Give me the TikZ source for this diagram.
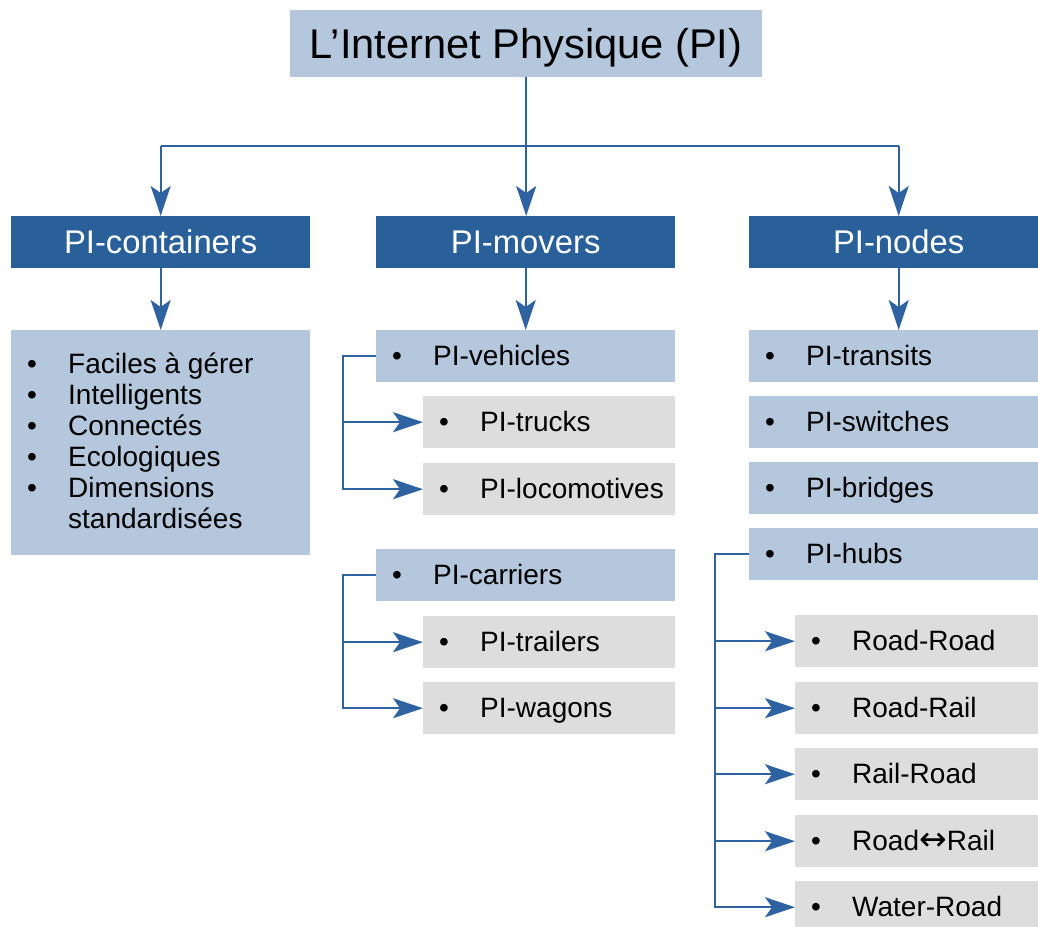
\documentclass[tikz,border=0pt]{standalone}
\usepackage{fontspec}
\setmainfont{Liberation Sans}
\newfontfamily\symfont{DejaVu Sans}
\usetikzlibrary{arrows.meta}
\definecolor{lblue}{HTML}{B4C7DC}
\definecolor{dblue}{HTML}{2A6099}
\definecolor{lgrey}{HTML}{DDDDDD}
\definecolor{lcol}{HTML}{2F62A0}
\newcommand{\bul}[1]{\makebox[41pt][l]{\textbullet}#1}
\begin{document}
\begin{tikzpicture}[x=1pt,y=-1pt,
  boxA/.style={fill=lblue, draw=none, inner sep=0pt, anchor=north west, minimum height=52pt, minimum width=299pt},
  boxB/.style={fill=lgrey, draw=none, inner sep=0pt, anchor=north west, minimum height=52pt, minimum width=252pt},
  head/.style={fill=dblue, text=white, inner sep=0pt, anchor=north west, minimum height=52pt, minimum width=299pt, font=\fontsize{32.8}{36}\selectfont, text height=22pt, text depth=0pt},
  item/.style={anchor=base west, inner sep=0pt, font=\fontsize{28}{31}\selectfont},
  line/.style={draw=lcol, line width=1.8pt},
  arr/.style={line, -{Stealth[length=30pt,width=20pt,inset=7pt]}}
]
\useasboundingbox (0,0) rectangle (1038,926);
\clip (0,0) rectangle (1038,926);

% title
\node[fill=lblue, inner sep=0pt, anchor=north west, minimum width=472pt, minimum height=67pt, text height=29pt, text depth=0pt, font=\fontsize{41.6}{46}\selectfont] (title) at (290,10) {L’Internet Physique (PI)};

% headers
\node[head] (cont) at (11,216) {PI-containers};
\node[head] (mov) at (376,216) {PI-movers};
\node[head] (nod) at (749,216) {PI-nodes};

% containers list
\node[boxA, minimum height=225pt] (clist) at (11,330) {};
\node[item] (c1) at (27,373) {\bul{Faciles à gérer}};
\node[item] (c2) at (27,404) {\bul{Intelligents}};
\node[item] (c3) at (27,435) {\bul{Connectés}};
\node[item] (c4) at (27,466) {\bul{Ecologiques}};
\node[item] (c5) at (27,497) {\bul{Dimensions}};
\node[item] (c6) at (27,528) {\makebox[41pt][l]{}standardisées};

% movers
\node[boxA] (veh) at (376,330) {};
\node[boxB] (trk) at (423,396) {};
\node[boxB] (loc) at (423,463) {};
\node[boxA] (car) at (376,549) {};
\node[boxB] (trl) at (423,616) {};
\node[boxB] (wag) at (423,682) {};

% nodes
\node[boxA] (tra) at (749,330) {};
\node[boxA] (swi) at (749,396) {};
\node[boxA] (bri) at (749,462) {};
\node[boxA] (hub) at (749,528) {};
\node[boxB] (rr) at (795,615) {};
\node[boxB] (rra) at (795,682) {};
\node[boxB] (rar) at (795,748) {};
\node[boxB] (rlr) at (795,815) {};
\node[boxB] (wr) at (795,881) {};

% texts
\foreach \b/\t in {veh/PI-vehicles, trk/PI-trucks, loc/PI-locomotives, car/PI-carriers, trl/PI-trailers, wag/PI-wagons, tra/PI-transits, swi/PI-switches, bri/PI-bridges, hub/PI-hubs, rr/Road-Road, rra/Road-Rail, rar/Rail-Road, wr/Water-Road}
  \node[item] (t-\b) at ([xshift=16pt,yshift=-9.5pt]\b.west) {\bul{\t}};
\node[item] (t-rlr) at ([xshift=16pt,yshift=-9.5pt]rlr.west) {\bul{Road{\symfont\fontsize{33}{33}\selectfont ↔}Rail}};

% connectors top
\coordinate (bus) at (526,146);
\draw[line] (cont.north |- bus) -- (nod.north |- bus);
\draw[arr] (title.south) -- (title.south |- mov.north);
\draw[arr] (cont.north |- bus) -- (cont.north);
\draw[arr] (nod.north |- bus) -- (nod.north);
\draw[arr] (cont.south) -- (clist.north);
\draw[arr] (mov.south) -- (mov.south |- veh.north);
\draw[arr] (nod.south) -- (tra.north);

% brackets
\coordinate (vx) at (343,0);
\draw[arr] (veh.west) -- (veh.west -| vx) |- (loc.west);
\draw[arr] (veh.west -| vx) |- (trk.west);
\draw[arr] (car.west) -- (car.west -| vx) |- (wag.west);
\draw[arr] (car.west -| vx) |- (trl.west);
\coordinate (hx) at (715,0);
\draw[arr] (hub.west) -- (hub.west -| hx) |- (wr.west);
\draw[arr] (hub.west -| hx) |- (rr.west);
\draw[arr] (hub.west -| hx) |- (rra.west);
\draw[arr] (hub.west -| hx) |- (rar.west);
\draw[arr] (hub.west -| hx) |- (rlr.west);
\end{tikzpicture}
\end{document}
